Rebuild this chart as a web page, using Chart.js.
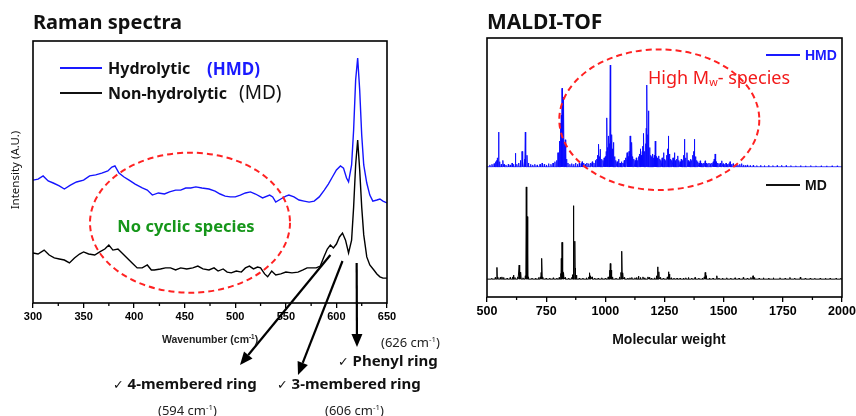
<!DOCTYPE html>
<html>
<head>
<meta charset="utf-8">
<script src="https://cdn.jsdelivr.net/npm/chart.js@4.4.1/dist/chart.umd.min.js"></script>
<style>
  body { margin: 0; background: #fff; width: 856px; height: 416px; overflow: hidden; position: relative; font-family: "Noto Sans", sans-serif; }
  .wrap { position: absolute; top: 0; }
  .t { position: absolute; white-space: nowrap; line-height: 1; transform: translateY(-50%); color: #111; }
  .c { transform: translate(-50%, -50%); }
  .arial { font-family: "Liberation Sans", Arial, sans-serif; font-weight: bold; }
  .b { font-weight: bold; }
  .chk { font-family: "DejaVu Sans", sans-serif; font-weight: normal; font-size: 0.85em; }
  .sw { position: absolute; }
  sup { font-size: 0.6em; vertical-align: 0.55em; }
  sub { font-size: 0.6em; vertical-align: -0.25em; }
  svg { position: absolute; left: 0; top: 0; }
</style>
</head>
<body>
<div class="wrap" style="left:0;width:460px;height:416px"><canvas id="raman" width="460" height="416"></canvas></div>
<div class="wrap" style="left:440px;width:440px;height:416px"><canvas id="maldi" width="440" height="416"></canvas></div>

<svg width="856" height="416">
  <ellipse cx="190" cy="222.7" rx="100" ry="70" fill="none" stroke="#f22" stroke-width="2" stroke-dasharray="6 4"/>
  <ellipse cx="659.3" cy="119.7" rx="100" ry="70.3" fill="none" stroke="#f22" stroke-width="2" stroke-dasharray="6 4"/>
</svg>

<!-- Raman panel text -->
<div class="t b" style="left:33px;top:22px;font-size:20px">Raman spectra</div>
<div class="sw" style="left:60px;top:67px;width:42px;height:2px;background:#1a1aff"></div>
<div class="t b" style="left:108px;top:68px;font-size:16px">Hydrolytic</div>
<div class="t b" style="left:207px;top:68px;font-size:17px;color:#1a1aff">(HMD)</div>
<div class="sw" style="left:60px;top:92px;width:42px;height:2px;background:#111"></div>
<div class="t b" style="left:108px;top:93px;font-size:16px">Non-hydrolytic</div>
<div class="t" style="left:239px;top:92px;font-size:19px">(MD)</div>
<div class="t b c" style="left:186px;top:226px;font-size:16.5px;color:#16961a">No cyclic species</div>
<div class="t c" style="left:15px;top:170px;font-size:11.5px;transform:translate(-50%,-50%) rotate(-90deg)">Intensity (A.U.)</div>
<div class="t c arial" style="left:210px;top:339px;font-size:10.5px;color:#222">Wavenumber (cm<sup>-1</sup>)</div>
<div class="t" style="left:381px;top:342px;font-size:13px;color:#222">(626 cm<sup>-1</sup>)</div>
<div class="t b" style="left:338px;top:361px;font-size:15px"><span class="chk">✓</span> Phenyl ring</div>
<div class="t b" style="left:113px;top:384px;font-size:15px"><span class="chk">✓</span> 4-membered ring</div>
<div class="t b" style="left:277px;top:384px;font-size:15px"><span class="chk">✓</span> 3-membered ring</div>
<div class="t" style="left:158px;top:410px;font-size:13px;color:#222">(594 cm<sup>-1</sup>)</div>
<div class="t" style="left:325px;top:410px;font-size:13px;color:#222">(606 cm<sup>-1</sup>)</div>

<!-- MALDI panel text -->
<div class="t b" style="left:487px;top:21px;font-size:21px">MALDI-TOF</div>
<div class="sw" style="left:766px;top:54px;width:34px;height:1.5px;background:#1a1aff"></div>
<div class="t arial" style="left:805px;top:55px;font-size:14px;color:#1a1aff">HMD</div>
<div class="sw" style="left:766px;top:184px;width:34px;height:1.5px;background:#111"></div>
<div class="t arial" style="left:805px;top:185px;font-size:14px">MD</div>
<div class="t" style="left:648px;top:78px;font-size:18px;color:#f21a1a">High M<sub>w</sub>- species</div>
<div class="t c arial" style="left:669px;top:339px;font-size:14px">Molecular weight</div>

<script>
// Raman spectra (offset traces, arbitrary units)
const hmdWn = [300, 305, 310, 315, 320, 326, 331, 337, 343, 350, 356, 362, 368, 374, 378, 381, 385, 390, 395, 401,
  408, 413, 418, 424, 430, 435, 441, 446, 451, 456, 461, 467, 474, 480, 485, 490, 495, 500, 505, 510,
  515, 520, 527, 534, 537, 540, 545, 550, 553, 558, 563, 568, 573, 578, 583, 588, 592, 596, 600, 604,
  607, 610, 612, 615, 617, 619, 621, 623, 625, 627, 630, 633, 636, 640, 643, 646, 650];
const hmdInt = [46.9, 47.3, 48.5, 46.6, 45.8, 44.7, 43.5, 45.0, 46.2, 46.9, 48.5, 48.9, 49.6, 50.4, 51.9, 52.3, 49.6, 48.1, 46.9, 45.4,
  43.9, 43.1, 41.2, 42.0, 41.6, 42.4, 43.1, 43.1, 43.9, 43.9, 44.3, 43.9, 43.5, 42.7, 41.6, 40.8, 40.5, 40.5, 41.2, 42.0,
  42.4, 41.6, 40.1, 41.2, 40.5, 38.5, 39.7, 40.8, 41.2, 40.5, 39.3, 38.9, 38.5, 38.9, 40.5, 43.1, 45.4, 48.1, 50.8, 52.3,
  51.5, 47.7, 46.2, 52.7, 66.0, 85.1, 93.5, 81.3, 64.1, 52.7, 45.8, 41.2, 38.9, 39.3, 39.7, 38.9, 38.2];

const mdWn = [300, 305, 311, 316, 321, 326, 331, 336, 341, 346, 350, 355, 361, 366, 371, 375, 379, 384, 389, 393,
  398, 403, 408, 413, 417, 420, 426, 431, 436, 441, 446, 452, 458, 463, 468, 474, 479, 483, 488, 492,
  496, 501, 506, 510, 514, 518, 522, 525, 529, 532, 536, 540, 545, 550, 556, 562, 567, 571, 575, 580,
  584, 588, 591, 594, 597, 600, 603, 606, 609, 612, 615, 617, 619, 621, 623, 625, 627, 630, 633, 637,
  640, 643, 646, 650];
const mdInt = [19.1, 18.7, 20.2, 18.3, 17.2, 16.8, 16.4, 15.3, 17.2, 18.7, 19.5, 18.7, 18.3, 19.5, 20.6, 22.1, 20.2, 20.6, 18.7, 17.2,
  15.3, 13.4, 13.4, 14.5, 12.6, 12.6, 13.0, 13.4, 13.4, 12.6, 13.4, 13.0, 13.4, 14.1, 13.0, 12.6, 13.4, 12.2, 13.0, 11.8,
  11.5, 12.2, 11.8, 13.4, 14.1, 13.0, 13.7, 13.4, 11.1, 10.0, 12.2, 10.7, 11.1, 11.8, 11.5, 11.8, 12.6, 13.4, 13.4, 13.4,
  14.1, 17.9, 20.6, 22.1, 21.0, 22.5, 25.2, 26.7, 24.0, 19.1, 24.0, 36.6, 52.7, 62.2, 50.8, 36.6, 26.0, 17.6, 14.5, 12.6,
  11.1, 10.0, 9.5, 9.5];

const ramanTicks = [300, 350, 400, 450, 500, 550, 600, 650];
// band assignments pointed at below the axis (cm-1)
const bandWn = [594, 606, 620];

// MALDI-TOF peak lists: [m/z, relative height]
const hmdPeaks = [
  [512, 1.5], [521, 2], [530, 2.5], [536, 4], [541, 5], [544, 7], [549, 27], [553, 4], [560, 2], [567, 5],
  [572, 2], [580, 1.5], [590, 2], [598, 1.5], [606, 3], [612, 2], [620, 10.6], [626, 2], [634, 3], [641, 5],
  [648, 12], [652, 4], [658, 6], [662, 27], [669, 9], [675, 3], [684, 2], [693, 1.5], [702, 2], [712, 1.5],
  [724, 2], [733, 3], [742, 2], [751, 1.5], [760, 2.5], [770, 2], [779, 3], [787, 4], [794, 5], [800, 11],
  [806, 20], [810, 34], [814, 40], [817, 61], [820, 30], [824, 54], [828, 18], [831, 21], [836, 6], [842, 3],
  [850, 2], [858, 2.5], [866, 2], [874, 3], [882, 2], [890, 3], [898, 2.5], [902, 4], [908, 3], [915, 2],
  [922, 3], [930, 2.5], [938, 3], [945, 4], [952, 3], [958, 5], [964, 6], [968, 9], [972, 17.6], [976, 8],
  [979, 13.7], [984, 6], [990, 5], [995, 7], [1000, 8], [1004, 12], [1007, 38], [1010, 15], [1014, 24], [1017, 18],
  [1021, 79], [1024, 20], [1028, 25], [1031, 14], [1035, 19], [1039, 8], [1044, 5], [1050, 4], [1056, 6], [1062, 3],
  [1068, 4], [1074, 3], [1080, 5], [1086, 7], [1092, 11], [1096, 8], [1100, 12], [1105, 24], [1109, 10], [1112, 19],
  [1116, 8], [1121, 6], [1126, 5], [1131, 7], [1136, 5], [1141, 8], [1145, 10], [1148, 14], [1152, 9], [1156, 12],
  [1159, 16], [1162, 26], [1166, 12], [1170, 18], [1173, 30], [1176, 63.5], [1180, 25], [1183, 43.5], [1187, 15], [1191, 9],
  [1195, 8], [1199, 10], [1203, 7], [1207, 9], [1211, 20], [1215, 8], [1220, 7], [1225, 8.5], [1230, 6], [1235, 5],
  [1240, 7], [1246, 11], [1250, 6], [1255, 5], [1260, 9], [1264, 14], [1267, 24], [1271, 10], [1276, 6], [1281, 5],
  [1286, 7], [1292, 11], [1296, 5], [1301, 6], [1306, 8.5], [1311, 5], [1316, 4], [1321, 6], [1326, 5], [1331, 9],
  [1335, 21.5], [1339, 7], [1345, 11], [1350, 5], [1355, 4], [1360, 6], [1365, 5], [1370, 9], [1374, 12], [1377, 21.5],
  [1381, 8], [1386, 5], [1391, 4], [1396, 3], [1401, 4.7], [1406, 3], [1411, 2.5], [1416, 3], [1422, 4.7], [1427, 3],
  [1432, 2.5], [1438, 3], [1444, 2.5], [1450, 3], [1456, 4], [1460, 6], [1464, 10], [1468, 4], [1474, 3], [1480, 2.5],
  [1486, 3], [1492, 4.7], [1498, 2.5], [1504, 2], [1510, 3], [1516, 2], [1522, 2.5], [1527, 4], [1533, 2], [1540, 2.5],
  [1546, 1.5], [1552, 2], [1560, 1.5], [1568, 2], [1576, 2.5], [1584, 1.5], [1592, 1.2], [1600, 1.5], [1612, 1], [1625, 1.2],
  [1640, 1], [1656, 1.2], [1672, 1], [1690, 1.2], [1708, 1], [1726, 1], [1745, 1.2], [1764, 1], [1784, 1], [1805, 0.8],
  [1825, 1], [1846, 0.8], [1868, 1], [1890, 0.8], [1912, 0.8], [1935, 0.8], [1958, 0.8], [1980, 0.8]
];

const mdPeaks = [
  [520, 0.8], [535, 1.5], [542, 10.5], [546, 2], [556, 1.5], [563, 2], [570, 1.5], [585, 1], [598, 1.5], [608, 2],
  [612, 3.6], [618, 1.5], [630, 2], [636, 12.6], [640, 4], [643, 6.3], [652, 1.2], [662, 3], [666, 82.6], [670, 56],
  [674, 2], [690, 1], [705, 1], [718, 1.5], [725, 2], [729, 6], [732, 18.6], [736, 2], [750, 1], [765, 1],
  [780, 1.2], [795, 1], [805, 1.5], [812, 5], [814, 18.6], [817, 33], [821, 8], [824, 6], [830, 1.5], [845, 1],
  [858, 1.5], [862, 4], [866, 65.8], [871, 34], [874, 10], [878, 3.6], [890, 1], [905, 1], [920, 1.2], [930, 2],
  [934, 5.7], [938, 3], [944, 2], [955, 1], [970, 1], [985, 1.2], [1000, 1], [1012, 2], [1018, 8], [1021, 14],
  [1025, 8], [1030, 2], [1045, 1], [1060, 2], [1066, 6], [1070, 25], [1074, 5.7], [1080, 1.5], [1095, 1], [1104, 1.2],
  [1112, 1.5], [1125, 1.2], [1132, 1.5], [1140, 2.7], [1148, 1.5], [1159, 2], [1166, 1.2], [1180, 2], [1186, 1.5], [1195, 1],
  [1208, 1.2], [1216, 3], [1221, 11], [1226, 6.6], [1232, 1.5], [1245, 1], [1262, 2], [1267, 6.6], [1271, 4.5], [1278, 1.2],
  [1290, 1], [1303, 1], [1316, 1], [1330, 1], [1340, 1.2], [1351, 1.5], [1365, 1], [1379, 1.5], [1395, 1], [1410, 1],
  [1418, 2], [1422, 6], [1426, 3], [1440, 1], [1455, 1], [1471, 3], [1480, 1], [1495, 1], [1513, 1.2], [1530, 1],
  [1548, 1.2], [1565, 1], [1583, 1.5], [1600, 1], [1615, 1.5], [1624, 3], [1630, 1.5], [1650, 1], [1668, 1.2], [1690, 1],
  [1710, 1.2], [1738, 1.2], [1760, 1], [1780, 1.5], [1800, 1], [1824, 1.8], [1845, 1], [1866, 1], [1885, 0.8], [1908, 1],
  [1930, 0.8], [1950, 1], [1975, 0.8], [1995, 0.8]
];

const massTicks = [500, 750, 1000, 1250, 1500, 1750, 2000];

// ---- helpers ----
function xy(xs, ys) {
  return xs.map((x, i) => ({ x: x, y: ys[i] }));
}

// turn a peak list into a stick spectrum sitting on a zero baseline
function sticks(peaks, lo, hi) {
  const pts = [{ x: lo, y: 0 }];
  peaks.forEach(([m, h]) => {
    pts.push({ x: m - 1.5, y: 0 }, { x: m, y: h }, { x: m + 1.5, y: 0 });
  });
  pts.push({ x: hi, y: 0 });
  return pts;
}

const tickFont = { family: '"Liberation Sans", Arial, sans-serif', weight: 'bold', size: 11 };

// black frame round the plot area
const framePlugin = {
  id: 'frame',
  afterDraw(chart) {
    const { ctx, chartArea: a } = chart;
    ctx.save();
    ctx.strokeStyle = '#000';
    ctx.lineWidth = 1.6;
    ctx.strokeRect(a.left, a.top, a.right - a.left, a.bottom - a.top);
    ctx.restore();
  }
};

// short ticks half way between the labelled ones
const minorTicks = {
  id: 'minorTicks',
  afterDraw(chart, args, opts) {
    const { ctx, scales: { x }, chartArea: a } = chart;
    ctx.save();
    ctx.strokeStyle = '#000';
    ctx.lineWidth = 1.3;
    for (let i = 0; i < opts.major.length - 1; i++) {
      const px = x.getPixelForValue((opts.major[i] + opts.major[i + 1]) / 2);
      ctx.beginPath();
      ctx.moveTo(px, a.bottom);
      ctx.lineTo(px, a.bottom + 3);
      ctx.stroke();
    }
    ctx.restore();
  }
};

function arrow(ctx, x0, y0, x1, y1) {
  const ang = Math.atan2(y1 - y0, x1 - x0);
  const len = 13, half = 5.5;
  const bx = x1 - len * Math.cos(ang), by = y1 - len * Math.sin(ang);
  ctx.beginPath();
  ctx.moveTo(x0, y0);
  ctx.lineTo(bx, by);
  ctx.stroke();
  ctx.beginPath();
  ctx.moveTo(x1, y1);
  ctx.lineTo(bx + half * Math.sin(ang), by - half * Math.cos(ang));
  ctx.lineTo(bx - half * Math.sin(ang), by + half * Math.cos(ang));
  ctx.closePath();
  ctx.fill();
}

// arrows from the bands down to their labels
const bandArrows = {
  id: 'bandArrows',
  afterDraw(chart) {
    const { ctx, scales: { x } } = chart;
    const ends = [[255, 240, 365], [261, 298, 375], [263, 357, 347]];
    ctx.save();
    ctx.strokeStyle = '#000';
    ctx.fillStyle = '#000';
    ctx.lineWidth = 2.2;
    bandWn.forEach((wn, i) => {
      const [y0, x1, y1] = ends[i];
      arrow(ctx, x.getPixelForValue(wn), y0, x1, y1);
    });
    ctx.restore();
  }
};

const plainLabel = v => String(v);

// ---- Raman ----
new Chart(document.getElementById('raman'), {
  type: 'line',
  data: {
    datasets: [
      { label: 'HMD', data: xy(hmdWn, hmdInt), borderColor: '#1414ff', borderWidth: 1.4 },
      { label: 'MD', data: xy(mdWn, mdInt), borderColor: '#000', borderWidth: 1.4 }
    ]
  },
  options: {
    responsive: false,
    animation: false,
    layout: { padding: { left: 33, top: 41, right: 73, bottom: 86 } },
    elements: { point: { radius: 0 }, line: { tension: 0 } },
    plugins: { legend: { display: false }, tooltip: { enabled: false }, minorTicks: { major: ramanTicks } },
    scales: {
      x: {
        type: 'linear', min: 300, max: 650,
        afterFit: s => { s.height = 27; },
        afterBuildTicks: s => { s.ticks = ramanTicks.map(v => ({ value: v })); },
        grid: { drawOnChartArea: false, tickLength: 5, color: '#000', lineWidth: 1.3 },
        border: { display: false },
        ticks: { font: tickFont, color: '#000', padding: 2, maxRotation: 0, callback: plainLabel }
      },
      y: { display: false, min: 0, max: 100 }
    }
  },
  plugins: [framePlugin, minorTicks, bandArrows]
});

// ---- MALDI-TOF: two stacked panels on one mass axis ----
new Chart(document.getElementById('maldi'), {
  type: 'line',
  data: {
    datasets: [
      { label: 'HMD', data: sticks(hmdPeaks, 500, 2000), yAxisID: 'yHMD', borderColor: 'rgba(10,10,255,0.9)', borderWidth: 1 },
      { label: 'MD', data: sticks(mdPeaks, 500, 2000), yAxisID: 'yMD', borderColor: '#000', borderWidth: 1 }
    ]
  },
  options: {
    responsive: false,
    animation: false,
    layout: { padding: { left: 47, top: 38, right: 38, bottom: 92 } },
    elements: { point: { radius: 0 }, line: { tension: 0 } },
    plugins: { legend: { display: false }, tooltip: { enabled: false }, minorTicks: { major: massTicks } },
    scales: {
      x: {
        type: 'linear', min: 500, max: 2000,
        afterFit: s => { s.height = 27; },
        afterBuildTicks: s => { s.ticks = massTicks.map(v => ({ value: v })); },
        grid: { drawOnChartArea: false, tickLength: 5, color: '#000', lineWidth: 1.3 },
        border: { display: false },
        ticks: { font: Object.assign({}, tickFont, { size: 12.5 }), color: '#000', padding: 2, maxRotation: 0, callback: plainLabel }
      },
      // stacked left axes are laid out from the last one defined downward
      yMD: { type: 'linear', display: false, stack: 'ms', stackWeight: 1, min: -16, max: 100, position: 'left' },
      yHMD: { type: 'linear', display: false, stack: 'ms', stackWeight: 1, min: -0.5, max: 100, position: 'left' }
    }
  },
  plugins: [framePlugin, minorTicks]
});
</script>
</body>
</html>
